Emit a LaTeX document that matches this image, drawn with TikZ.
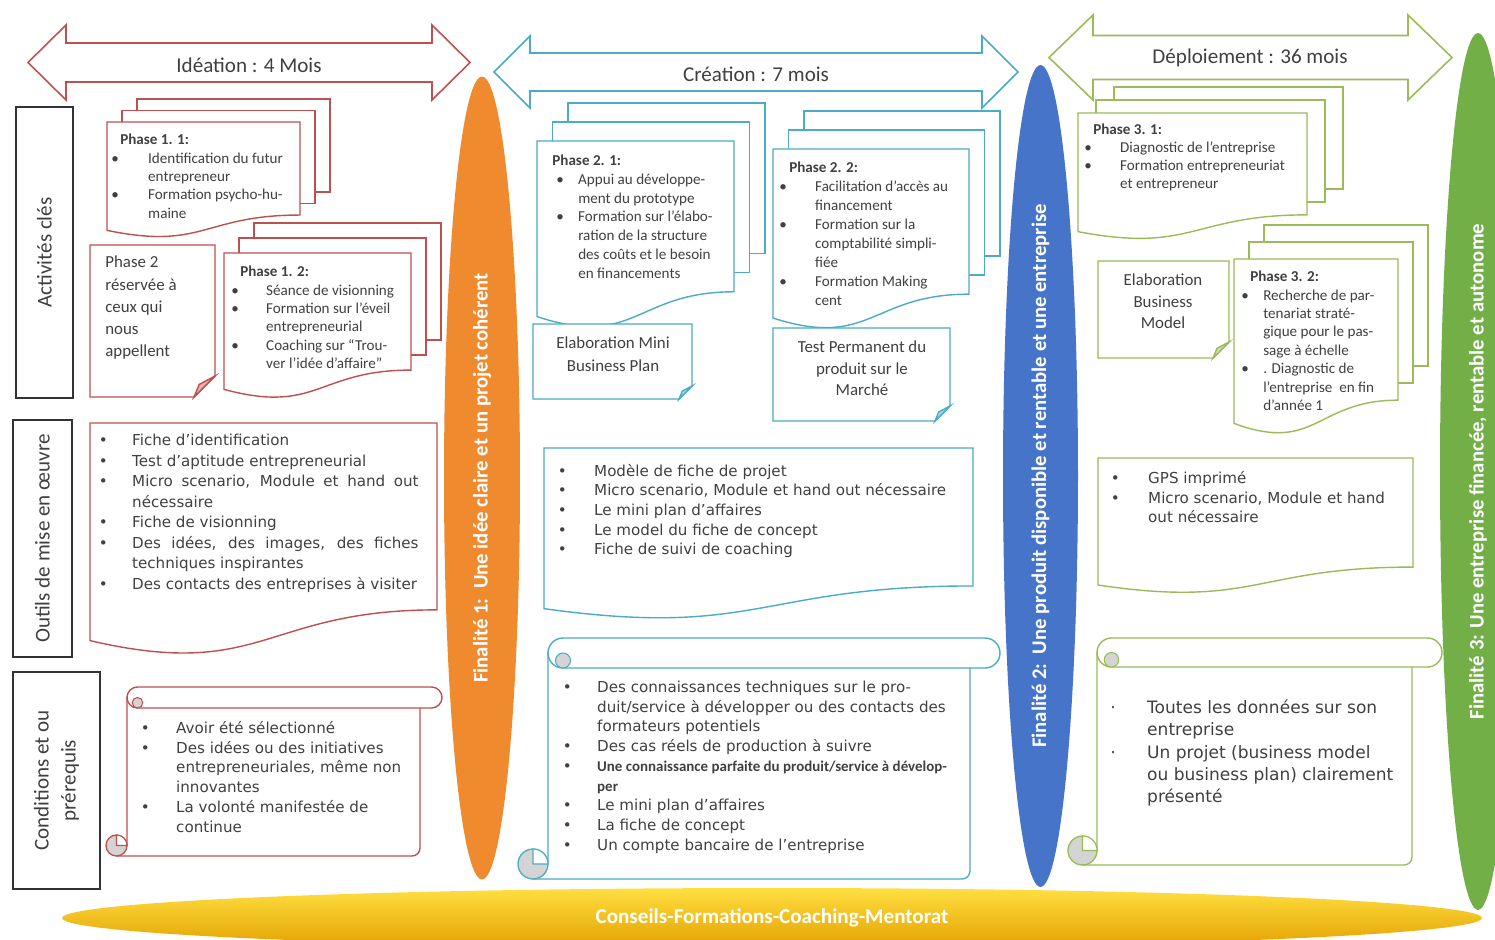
\documentclass[tikz,border=0pt]{standalone}
\usepackage{fontspec}
\setmainfont{Carlito}
\newfontfamily\verdana{DejaVu Sans}
\usetikzlibrary{shapes.geometric}

\definecolor{ideaRed}{HTML}{C0504D}
\definecolor{creaBlue}{HTML}{4BACC6}
\definecolor{deplGreen}{HTML}{9BBB59}
\definecolor{finOrange}{HTML}{F08A2E}
\definecolor{finBlue}{HTML}{4674C8}
\definecolor{finGreen}{HTML}{72AF46}
\definecolor{textGray}{HTML}{404040}
\definecolor{curlGray}{HTML}{D4D4D4}
\definecolor{goldTop}{HTML}{FFDF40}
\definecolor{goldMid}{HTML}{FFC400}
\definecolor{goldBot}{HTML}{E3A000}

\newdimen\px \px=0.5669pt
\newlength\bulpre
\newlength\bulw
\newcommand\bul[1][•]{\makebox[\bulw][l]{\hspace*{\bulpre}#1}}
\newcommand\ind{\hspace*{\bulw}}

\newcommand{\dblarrow}[7]{% colour, left tip, right tip, middle, half shaft, half head, head length
  \filldraw[arrowline=#1] (#2,#4) -- ({#2+#7},{#4-#6}) -- ({#2+#7},{#4-#5}) -- ({#3-#7},{#4-#5}) -- ({#3-#7},{#4-#6}) -- (#3,#4)
    -- ({#3-#7},{#4+#6}) -- ({#3-#7},{#4+#5}) -- ({#2+#7},{#4+#5}) -- ({#2+#7},{#4+#6}) -- cycle;}
\newcommand{\docshape}[5]{%
  \filldraw[docline=#1] (#2,#3) -- (#4,#3) -- (#4,{#3+0.802*(#5-#3)})
    .. controls ({(#2+#4)/2},{#3+0.802*(#5-#3)}) and ({(#2+#4)/2},{#3+1.107*(#5-#3)}) .. (#2,{#3+0.934*(#5-#3)}) -- cycle;}
\newcommand{\multidoc}[7]{%
  \foreach \k in {2,1}
    \filldraw[docline=#1] ({#2+\k*#6},{#3-\k*#7}) rectangle ({#4+\k*#6},{#3+0.802*(#5-#3)-\k*#7});
  \docshape{#1}{#2}{#3}{#4}{#5}}
\newcommand{\notebox}[6]{%
  \filldraw[docline=#1] (#2,#3) -- (#4,#3) -- (#4,{#5-#6}) -- ({#4-#6},#5) -- (#2,#5) -- cycle;
  \filldraw[docline=#1, fill=#1!45] (#4,{#5-#6}) -- ({#4-0.75*#6},{#5-0.6*#6}) -- ({#4-#6},#5) -- cycle;}
\newcommand{\scrollbox}[7]{% colour, left, top, bar end, body right, bottom, curl radius
  \filldraw[docline=#1] (#2,{#3+#7}) -- (#5,{#3+#7}) -- (#5,{#6-8}) arc[start angle=0, end angle=90, radius=8]
    -- ({#2-#7},#6) -- ({#2-#7},{#6-#7}) -- (#2,{#6-#7}) -- cycle;
  \filldraw[docline=#1] ({#2+#7},#3) -- ({#4-#7},#3) arc[start angle=-90, end angle=90, radius=#7]
    -- ({#2+#7},{#3+2*#7}) arc[start angle=90, end angle=270, radius=#7] -- cycle;
  \filldraw[draw=#1, fill=curlGray, line width=0.6pt] ({#2+#7},{#3+1.5*#7}) circle[radius={#7/2}];
  \filldraw[draw=#1, fill=curlGray, line width=0.75pt] ({#2-#7},{#6-#7}) circle[radius=#7];
  \filldraw[draw=#1, fill=white, line width=0.6pt] ({#2-#7},{#6-#7}) -- ({#2-#7},{#6-2*#7}) arc[start angle=-90, end angle=0, radius=#7] -- cycle;}

\tikzset{
  docline/.style={draw=#1, fill=white, line width=0.8pt},
  arrowline/.style={draw=#1, fill=white, line width=0.9pt},
  rowbox/.style={draw=black!80, fill=white, line width=0.8pt},
  rowlabel/.style={rotate=90, align=center, text=textGray, font=\fontsize{12}{15.5}\selectfont},
  title/.style={text=textGray, font=\fontsize{12}{14}\selectfont},
  finale/.style={ellipse, rotate=90, inner sep=0pt, text=white, font=\bfseries\fontsize{11.8}{13}\selectfont},
  phasetxt/.style 2 args={anchor=north west, inner sep=0pt, align=left, text=textGray,
    font=\fontsize{8.6}{10.5}\selectfont, execute at begin node={\setlength\bulpre{#1\px}\setlength\bulw{#2\px}}},
  tooltxt/.style 2 args={anchor=north west, inner sep=0pt, align=left, text=textGray,
    font=\verdana\fontsize{8.6}{11.3}\selectfont, execute at begin node={\setlength\bulpre{#1\px}\setlength\bulw{#2\px}}},
  notetxt/.style={inner sep=0pt, align=center, text=textGray, font=\fontsize{9.6}{12.6}\selectfont},
}

\begin{document}
\begin{tikzpicture}[x=0.02cm, y=-0.02cm]
	\path[use as bounding box, fill=white] (0,0) rectangle (1495,940);
	\clip (0,0) rectangle (1495,940);

	\node[finale, fill=finOrange, minimum width=16.06cm, minimum height=1.52cm] (fin1) at (482,478) {Finalité 1:\ \ Une idée claire et un projet cohérent};
	\node[finale, fill=finBlue, minimum width=16.44cm, minimum height=1.5cm] (fin2) at (1040.5,476) {Finalité 2:\ \ Une produit disponible et rentable et une entreprise};
	\node[finale, fill=finGreen, minimum width=17.54cm, minimum height=1.52cm] (fin3) at (1478,471.5) {Finalité 3: Une entreprise financée, rentable et autonome};
	\node[ellipse, minimum width=28.4cm, minimum height=1.2cm, top color=goldTop, middle color=goldMid, bottom color=goldBot,
		text=white, font=\bfseries\fontsize{12}{14}\selectfont] (mentorat) at (772,918) {Conseils-Formations-Coaching-Mentorat};

	\dblarrow{ideaRed}{28}{470}{62.5}{19.5}{37.5}{38}
	\node[title] (ttlIdea) at (249,65) {Idéation : 4 Mois};
	\dblarrow{creaBlue}{494}{1018}{72}{19}{36}{36}
	\node[title] (ttlCrea) at (756,74) {Création : 7 mois};
	\dblarrow{deplGreen}{1049}{1452}{57.5}{22}{42.5}{44}
	\node[title] (ttlDepl) at (1250,58) {Déploiement : 36 mois};

	\draw[rowbox] (16,107) rectangle node[rowlabel] (lblAct) {Activités clés} (73,398);
	\draw[rowbox] (13,420) rectangle node[rowlabel] (lblOut) {Outils de mise en œuvre} (72,657);
	\draw[rowbox] (13,672) rectangle node[rowlabel] (lblCond) {Conditions et ou\\prérequis} (100,889);

	% Idéation
	\multidoc{ideaRed}{107}{122}{300}{238}{15}{11.5}
	\node[phasetxt={0}{37}] (ph11) at (111,133.6) {\hspace*{9\px}\textbf{Phase 1. 1:}\\ \bul Identification du futur\\ \ind entrepreneur\\ \bul Formation psycho-hu-\\ \ind maine};
	\notebox{ideaRed}{90}{245}{215}{397}{21}
	\node[notetxt, align=left, anchor=north west] (ph2note) at (105,255.9) {Phase 2\\réservée à\\ceux qui\\nous\\appellent};
	\multidoc{ideaRed}{224}{253}{411}{399}{15}{15}
	\node[phasetxt={0}{35}] (ph12) at (231,265.6) {\hspace*{9\px}\textbf{Phase 1. 2:}\\ \bul Séance de visionning\\ \bul Formation sur l'éveil\\ \ind entrepreneurial\\ \bul Coaching sur “Trou-\\ \ind ver l'idée d'affaire”};
	\docshape{ideaRed}{90}{423}{437}{656}
	\node[tooltxt={0}{33.5}, font=\verdana\fontsize{8.6}{11.7}\selectfont] (outIdea) at (98.5,433.8) {\bul Fiche d’identification\\ \bul Test d’aptitude entrepreneurial\\ \bul\makebox[163pt][s]{Micro scenario, Module et hand out}\\ \ind nécessaire\\ \bul Fiche de visionning\\ \bul\makebox[163pt][s]{Des idées, des images, des fiches}\\ \ind techniques inspirantes\\ \bul Des contacts des entreprises à visiter};
	\scrollbox{ideaRed}{127}{687}{442}{420}{856}{10.5}
	\node[tooltxt={0}{35.5}] (condIdea) at (140.5,720.8) {\bul Avoir été sélectionné\\ \bul Des idées ou des initiatives\\ \ind entrepreneuriales, même non\\ \ind innovantes\\ \bul La volonté manifestée de\\ \ind continue};

	% Création
	\multidoc{creaBlue}{537}{141}{734}{329}{15.5}{19}
	\node[phasetxt={4}{26}, font=\fontsize{8.6}{10.7}\selectfont] (ph21) at (552,154.6) {\textbf{Phase 2. 1:}\\ \bul Appui au développe-\\ \ind ment du prototype\\ \bul Formation sur l'élabo-\\ \ind ration de la structure\\ \ind des coûts et le besoin\\ \ind en financements};
	\multidoc{creaBlue}{773}{149}{969}{330}{15.5}{19}
	\node[phasetxt={0}{36}, font=\fontsize{8.6}{10.85}\selectfont] (ph22) at (779,161.6) {\hspace*{10\px}\textbf{Phase 2. 2:}\\ \bul Facilitation d'accès au\\ \ind financement\\ \bul Formation sur la\\ \ind comptabilité simpli-\\ \ind fiée\\ \bul Formation Making\\ \ind cent};
	\notebox{creaBlue}{533}{324}{692}{399}{13}
	\node[notetxt, font=\fontsize{9.6}{13}\selectfont] (miniBP) at (613,354.5) {Elaboration Mini\\Business Plan};
	\notebox{creaBlue}{773}{328}{950}{421}{15}
	\node[notetxt, font=\fontsize{9.6}{12.2}\selectfont] (testMarche) at (862,368.5) {Test Permanent du\\produit sur le\\Marché};
	\docshape{creaBlue}{544}{448}{973}{620}
	\node[tooltxt={0}{36.5}, font=\verdana\fontsize{8.6}{11.2}\selectfont] (outCrea) at (557.5,463.8) {\bul Modèle de fiche de projet\\ \bul Micro scenario, Module et hand out nécessaire\\ \bul Le mini plan d’affaires\\ \bul Le model du fiche de concept\\ \bul Fiche de suivi de coaching};
	\scrollbox{creaBlue}{548}{638}{1000}{970}{879}{15}
	\node[tooltxt={0}{34.5}, font=\verdana\fontsize{8.6}{11.2}\selectfont] (condCrea) at (562.5,680.8) {\bul Des connaissances techniques sur le pro-\\ \ind duit/service à développer ou des contacts des\\ \ind formateurs potentiels\\ \bul Des cas réels de production à suivre\\ \bul{\rmfamily\bfseries\fontsize{8.5}{11.2}\selectfont Une connaissance parfaite du produit/service à dévelop-}\\ \ind{\rmfamily\bfseries\fontsize{8.5}{11.2}\selectfont per}\\ \bul Le mini plan d’affaires\\ \bul La fiche de concept\\ \bul Un compte bancaire de l’entreprise};

	% Déploiement
	\multidoc{deplGreen}{1078}{113}{1307}{240}{18}{13}
	\node[phasetxt={0}{36}, font=\fontsize{8.6}{10.3}\selectfont] (ph31) at (1084,123.6) {\hspace*{9\px}\textbf{Phase 3. 1:}\\ \bul Diagnostic de l'entreprise\\ \bul Formation entrepreneuriat\\ \ind et entrepreneur};
	\notebox{deplGreen}{1098}{261}{1229}{358}{16}
	\node[notetxt, font=\fontsize{9.6}{12.2}\selectfont] (bizModel) at (1163,301.5) {Elaboration\\Business\\Model};
	\multidoc{deplGreen}{1234}{259}{1398}{435}{15}{17}
	\node[phasetxt={0}{22}] (ph32) at (1241,270.6) {\hspace*{9\px}\textbf{Phase 3. 2:}\\ \bul Recherche de par-\\ \ind tenariat straté-\\ \ind gique pour le pas-\\ \ind sage à échelle\\ \bul . Diagnostic de\\ \ind l'entreprise\ \ en fin\\ \ind d’année 1};
	\docshape{deplGreen}{1098}{458}{1413}{594}
	\node[tooltxt={0}{37.5}] (outDepl) at (1110.5,470.8) {\bul GPS imprimé\\ \bul Micro scenario, Module et hand\\ \ind out nécessaire};
	\scrollbox{deplGreen}{1097}{638}{1442}{1412}{865}{14.5}
	\node[tooltxt={0}{37}, font=\verdana\fontsize{9.7}{12.6}\selectfont] (condDepl) at (1110,699.8) {\bul[·]Toutes les données sur son\\ \ind entreprise\\ \bul[·]Un projet (business model\\ \ind ou business plan) clairement\\ \ind présenté};
\end{tikzpicture}
\end{document}
